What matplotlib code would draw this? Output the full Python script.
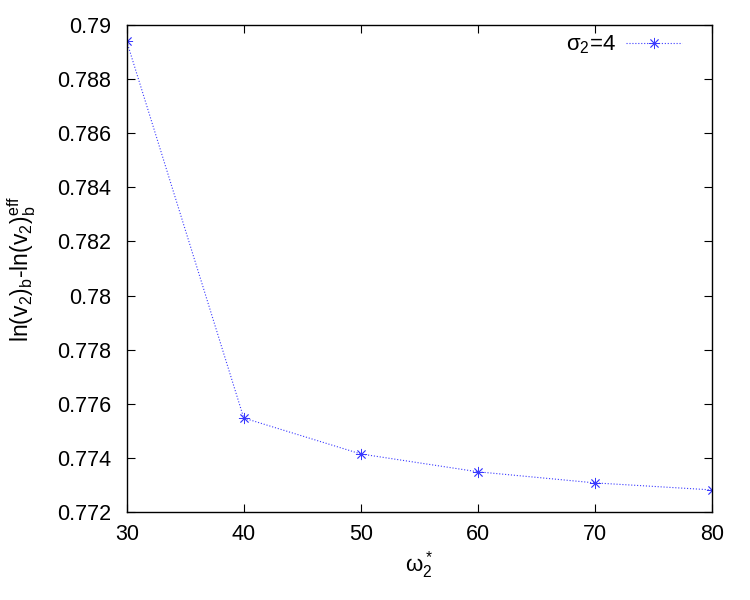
import matplotlib
matplotlib.use("Agg")
import matplotlib.pyplot as plt

omega = [30, 40, 50, 60, 70, 80]
diff = [0.78940, 0.77547, 0.77414, 0.77348, 0.77307, 0.77281]
xticks = [30, 40, 50, 60, 70, 80]
yticks = [0.772, 0.774, 0.776, 0.778, 0.78, 0.782, 0.784, 0.786, 0.788, 0.79]
ytick_labels = ['0.772', '0.774', '0.776', '0.778', '0.78', '0.782', '0.784', '0.786', '0.788', '0.79']

plt.rcParams['font.family'] = ['Liberation Sans', 'DejaVu Sans']
plt.rcParams['mathtext.fontset'] = 'custom'
plt.rcParams['mathtext.rm'] = 'Liberation Sans'
plt.rcParams['mathtext.it'] = 'Liberation Sans'
plt.rcParams['mathtext.sf'] = 'Liberation Sans'

fig = plt.figure(figsize=(7.5, 6), dpi=100)
ax = fig.add_axes([0.169, 0.147, 0.780, 0.811])

ax.plot(omega, diff, color='#3a3aff', linestyle=':', linewidth=0.8,
        marker=(8, 2, 0), markersize=8, markeredgewidth=0.6,
        label=r'$\mathrm{\sigma_2}$=4')

ax.set_xlim(30, 80)
ax.set_ylim(0.772, 0.79)
ax.set_xticks(xticks)
ax.set_yticks(yticks)
ax.set_yticklabels(ytick_labels)
ax.tick_params(direction='in', top=True, right=True, labelsize=15.5, length=6)
ax.tick_params(axis='y', pad=11)
ax.tick_params(axis='x', pad=9)
for s in ax.spines.values():
    s.set_linewidth(1.0)

ax.set_xlabel(r'$\mathrm{\omega_2^*}$', fontsize=16, labelpad=3)
ax.set_ylabel(r'ln(v$_\mathrm{2}$)$_\mathrm{b}$-ln(v$_\mathrm{2}$)$_\mathrm{b}^\mathrm{eff}$',
              fontsize=16.5, labelpad=14)

ax.legend(loc='upper right', bbox_to_anchor=(0.975, 1.015), frameon=False,
          fontsize=16, markerfirst=False, handlelength=2.5, handletextpad=0.45,
          borderaxespad=0.3)

fig.savefig('out.png', dpi=100)
